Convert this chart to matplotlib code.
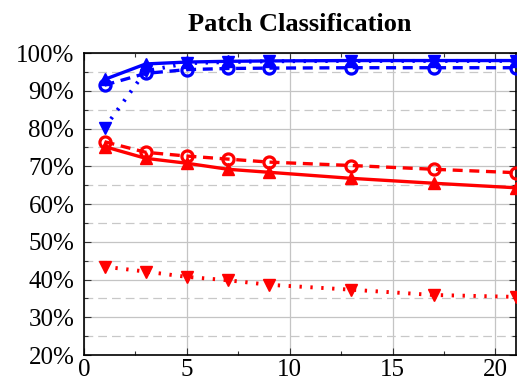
import matplotlib
matplotlib.use("Agg")
import matplotlib.pyplot as plt
from matplotlib.ticker import MultipleLocator, FuncFormatter

x = [1, 3, 5, 7, 9, 13, 17, 21]
blue_solid = [93.0, 97.1, 97.6, 97.8, 97.9, 98.0, 98.0, 98.0]
blue_dashed = [91.5, 94.6, 95.6, 95.9, 96.0, 96.1, 96.1, 96.1]
blue_dotted = [80.2, 95.2, 97.3, 97.6, 97.8, 97.9, 97.9, 97.9]
red_solid = [75.2, 72.1, 70.8, 69.2, 68.4, 66.8, 65.5, 64.3]
red_dashed = [76.5, 73.7, 72.7, 71.9, 71.1, 70.2, 69.2, 68.3]
red_dotted = [43.4, 42.1, 40.7, 39.8, 38.6, 37.3, 35.9, 35.4]
title = "Patch Classification"

plt.rcParams['font.family'] = ['Liberation Serif', 'DejaVu Serif']

fig = plt.figure(figsize=(5.27, 3.88), dpi=100)
ax = fig.add_axes([0.1594, 0.085, 0.8196, 0.7784])

blue = (0, 0, 1)
red = (1, 0, 0)
lw = 2.4
ax.plot(x, blue_dotted, color=blue, ls=(0, (0.6, 2.2)), lw=2.8, marker='v', ms=8, zorder=3)
ax.plot(x, blue_dashed, color=blue, ls=(0, (3, 2)), lw=lw, marker='o', ms=8,
        mfc='none', mew=2.3, zorder=3)
ax.plot(x, blue_solid, color=blue, ls='-', lw=lw, marker='^', ms=8, zorder=3)
ax.plot(x, red_dotted, color=red, ls=(0, (0.6, 2.2)), lw=2.8, marker='v', ms=9, zorder=3)
ax.plot(x, red_dashed, color=red, ls=(0, (3, 2)), lw=lw, marker='o', ms=8,
        mfc='none', mew=2.3, zorder=3)
ax.plot(x, red_solid, color=red, ls='-', lw=lw, marker='^', ms=8, zorder=3)

ax.set_xlim(0, 21)
ax.set_ylim(20, 100)
ax.xaxis.set_major_locator(MultipleLocator(5))
ax.xaxis.set_minor_locator(MultipleLocator(2.5))
ax.yaxis.set_major_locator(MultipleLocator(10))
ax.yaxis.set_minor_locator(MultipleLocator(5))
ax.yaxis.set_major_formatter(FuncFormatter(lambda v, p: f"{int(round(v))}%"))

ax.grid(True, which='major', color='#c4c4c4', lw=0.9, ls='-', zorder=0)
ax.grid(True, which='minor', axis='y', color='#c8c8c8', lw=0.9, ls=(0, (7, 4)), zorder=0)
ax.set_axisbelow(True)

ax.tick_params(which='both', direction='in', top=True, right=True, labelsize=18,
               width=0.8, color='#333333')
ax.tick_params(axis='y', pad=7)
ax.tick_params(axis='x', pad=3)
ax.tick_params(which='major', length=5)
ax.tick_params(which='minor', length=3)
for s in ax.spines.values():
    s.set_linewidth(1.2)
    s.set_color('black')

ax.set_title(title, fontsize=19, fontweight='bold', pad=16)

fig.savefig("out.png", dpi=100)
